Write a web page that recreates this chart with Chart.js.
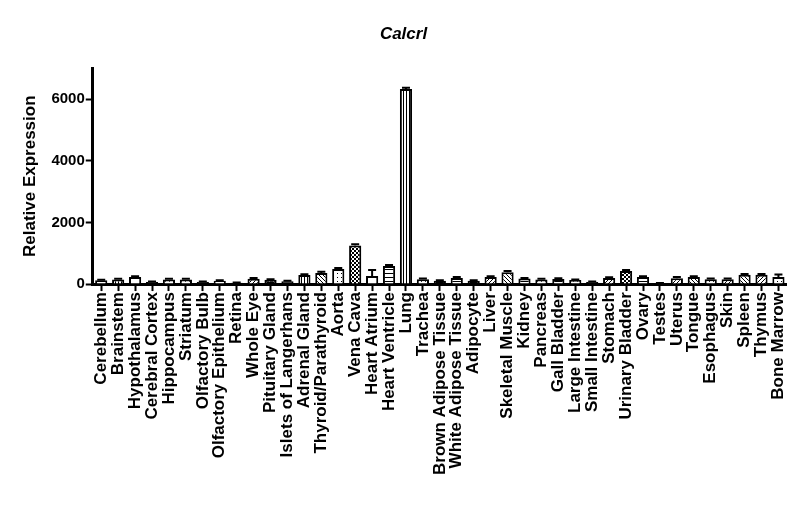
<!DOCTYPE html>
<html>
<head>
<meta charset="utf-8">
<title>Calcrl</title>
<script src="https://cdn.jsdelivr.net/npm/chart.js@4.4.1/dist/chart.umd.min.js"></script>
<style>
  html, body { margin: 0; padding: 0; background: #fff; }
  #wrap { width: 800px; height: 522px; }
</style>
</head>
<body>
<div id="wrap"><canvas id="chart"></canvas></div>
<script>
// Tissue panel, relative expression of Calcrl
const tissues = [
  'Cerebellum', 'Brainstem', 'Hypothalamus', 'Cerebral Cortex', 'Hippocampus',
  'Striatum', 'Olfactory Bulb', 'Olfactory Epithelium', 'Retina', 'Whole Eye',
  'Pituitary Gland', 'Islets of Langerhans', 'Adrenal Gland', 'Thyroid/Parathyroid', 'Aorta',
  'Vena Cava', 'Heart Atrium', 'Heart Ventricle', 'Lung', 'Trachea',
  'Brown Adipose Tissue', 'White Adipose Tissue', 'Adipocyte', 'Liver', 'Skeletal Muscle',
  'Kidney', 'Pancreas', 'Gall Bladder', 'Large Intestine', 'Small Intestine',
  'Stomach', 'Urinary Bladder', 'Ovary', 'Testes', 'Uterus',
  'Tongue', 'Esophagus', 'Skin', 'Spleen', 'Thymus', 'Bone Marrow'
];

const expression = [
  120, 150, 230, 70, 150,
  150, 70, 110, 40, 170,
  140, 90, 290, 360, 490,
  1250, 260, 590, 6330, 160,
  110, 200, 110, 230, 380,
  180, 150, 165, 130, 70,
  200, 420, 230, 30, 190,
  230, 160, 160, 300, 300, 230
];

const expressionErr = [
  20, 20, 20, 10, 20,
  20, 10, 15, 10, 25,
  20, 15, 30, 40, 30,
  40, 200, 30, 40, 20,
  15, 30, 15, 20, 40,
  20, 20, 20, 20, 10,
  25, 40, 20, 5, 40,
  25, 20, 20, 30, 30, 80
];

const yTicks = [0, 2000, 4000, 6000];

// fill style per bar (cosmetic only)
const fills = [
  'dots', 'vstripe', 'white', 'dark', 'dots',
  'dots', 'dark', 'hstripe', 'dark', 'diag',
  'dark', 'dark', 'vstripe', 'diag2', 'dots',
  'checker', 'white', 'hstripe', 'vstripe', 'dots',
  'dark', 'hstripe', 'dark', 'diag', 'diag2',
  'hstripe', 'dots', 'hstripe', 'dots', 'dark',
  'diag', 'checker', 'hstripe', 'dark', 'diag',
  'diag2', 'dots', 'diag', 'diag2', 'diag', 'dots'
];

function makePattern(kind) {
  const c = document.createElement('canvas');
  const s = kind === 'vstripe' ? 3 : 4;
  c.width = s; c.height = s;
  const g = c.getContext('2d');
  g.fillStyle = '#fff';
  g.fillRect(0, 0, s, s);
  g.fillStyle = '#000';
  g.strokeStyle = '#000';
  g.lineWidth = 1;
  switch (kind) {
    case 'dots': g.fillRect(1, 1, 1, 1); break;
    case 'checker': g.fillRect(0, 0, 2, 2); g.fillRect(2, 2, 2, 2); break;
    case 'vstripe': g.fillRect(1, 0, 1, s); break;
    case 'hstripe': g.fillRect(0, 1, s, 1); break;
    case 'diag':
      g.beginPath(); g.moveTo(0, s); g.lineTo(s, 0); g.stroke(); break;
    case 'diag2':
      g.beginPath(); g.moveTo(0, 0); g.lineTo(s, s); g.stroke(); break;
    case 'dark': g.fillRect(0, 0, s, s); g.fillStyle = '#fff'; g.fillRect(1, 1, 1, 1); break;
    default: break;
  }
  return document.getElementById('chart').getContext('2d').createPattern(c, 'repeat');
}

const barFills = fills.map(k => makePattern(k));

const errorBars = {
  id: 'errorBars',
  afterDatasetsDraw(chart) {
    const ctx = chart.ctx;
    const meta = chart.getDatasetMeta(0);
    const y = chart.scales.y;
    ctx.save();
    ctx.strokeStyle = '#000';
    ctx.lineWidth = 2;
    meta.data.forEach((bar, i) => {
      const top = y.getPixelForValue(expression[i] + expressionErr[i]);
      const base = y.getPixelForValue(expression[i]);
      ctx.beginPath();
      ctx.moveTo(bar.x, base);
      ctx.lineTo(bar.x, top);
      ctx.moveTo(bar.x - 4, top);
      ctx.lineTo(bar.x + 4, top);
      ctx.stroke();
    });
    ctx.restore();
  }
};

const FONT = '"Liberation Sans", Arial, sans-serif';

new Chart(document.getElementById('chart'), {
  type: 'bar',
  data: {
    labels: tissues,
    datasets: [{
      label: 'Calcrl',
      data: expression,
      backgroundColor: barFills,
      borderColor: '#000',
      borderWidth: 2,
      barPercentage: 0.72,
      categoryPercentage: 1.0
    }]
  },
  options: {
    responsive: true,
    maintainAspectRatio: false,
    animation: false,
    layout: { padding: { top: 8, right: 13, bottom: 46, left: 20 } },
    plugins: {
      legend: { display: false },
      tooltip: { enabled: false },
      title: {
        display: true,
        text: 'Calcrl',
        color: '#000',
        font: { family: FONT, size: 17, weight: 'bold', style: 'italic' },
        padding: { top: 16, bottom: 24 }
      }
    },
    scales: {
      x: {
        offset: true,
        border: { display: true, color: '#000', width: 3 },
        grid: { display: true, offset: false, drawOnChartArea: false, drawTicks: true, tickLength: 7, tickWidth: 2, tickColor: '#000' },
        ticks: { color: '#000', font: { family: FONT, size: 17, weight: 'bold' }, minRotation: 90, maxRotation: 90, autoSkip: false, padding: 1 }
      },
      y: {
        min: 0,
        max: 7000,
        afterBuildTicks(axis) { axis.ticks = yTicks.map(v => ({ value: v })); },
        border: { display: true, color: '#000', width: 3 },
        grid: { display: true, drawOnChartArea: false, drawTicks: true, tickLength: 7, tickWidth: 2, tickColor: '#000' },
        ticks: { color: '#000', font: { family: FONT, size: 15, weight: 'bold' }, padding: 1, callback: v => String(v) },
        title: {
          display: true,
          text: 'Relative Expression',
          color: '#000',
          font: { family: FONT, size: 17, weight: 'bold' },
          padding: { top: 0, bottom: 10 }
        }
      }
    }
  },
  plugins: [errorBars]
});
</script>
</body>
</html>
